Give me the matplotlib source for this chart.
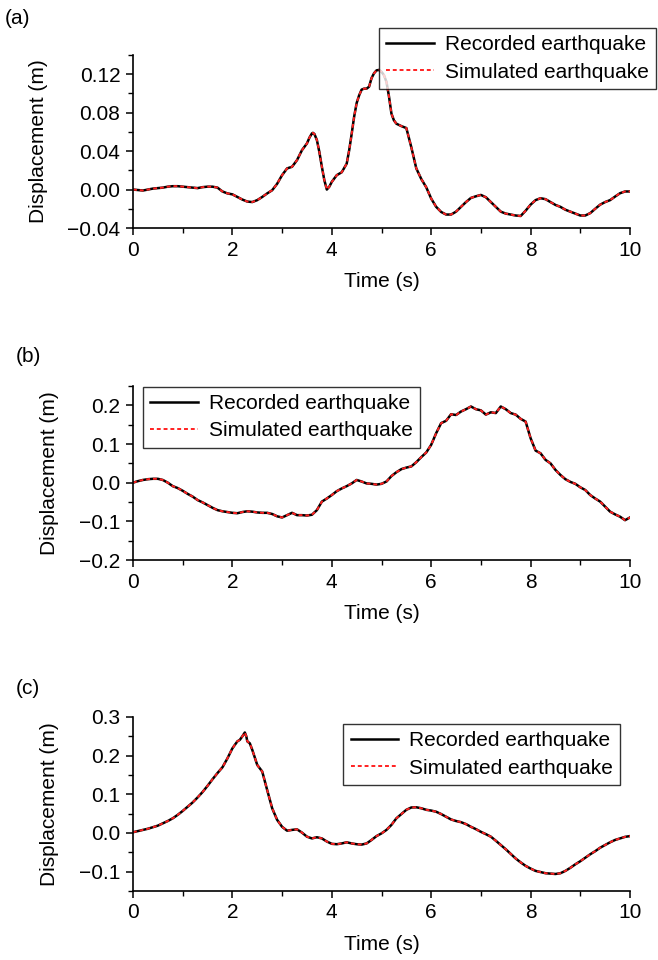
import numpy as np
import matplotlib
matplotlib.use("Agg")
import matplotlib.pyplot as plt
from matplotlib.ticker import MultipleLocator, FuncFormatter

plt.rcParams["font.family"] = ["Liberation Sans", "DejaVu Sans"]
plt.rcParams["font.size"] = 15

# time axis, 0.1 s steps
time_s = np.round(np.arange(0, 10.01, 0.1), 1)

# (a) displacement (m)
disp_a = [
    0.000, -0.0005, -0.001, 0.000, 0.001, 0.0015, 0.002, 0.003, 0.0035, 0.0035,
    0.003, 0.0025, 0.002, 0.0015, 0.0025, 0.003, 0.003, 0.002, -0.002, -0.004,
    -0.005, -0.0077, -0.0104, -0.0125, -0.013, -0.011, -0.0077, -0.004, -0.0007, 0.006,
    0.015, 0.022, 0.0237, 0.0306, 0.041, 0.048, 0.0584, 0.0515, 0.0237, 0.000,
    0.008, 0.015, 0.018, 0.027, 0.058, 0.090, 0.104, 0.105, 0.116, 0.124,
    0.1225, 0.112, 0.079, 0.0685, 0.066, 0.064, 0.044, 0.022, 0.011, 0.0024,
    -0.0094, -0.018, -0.0233, -0.026, -0.026, -0.023, -0.018, -0.013, -0.0087, -0.007,
    -0.0056, -0.008, -0.013, -0.018, -0.023, -0.025, -0.026, -0.027, -0.0275, -0.022,
    -0.0157, -0.011, -0.009, -0.010, -0.013, -0.016, -0.018, -0.021, -0.023, -0.025,
    -0.027, -0.027, -0.0245, -0.020, -0.0157, -0.013, -0.011, -0.0073, -0.0038, -0.002,
    -0.002,
]
# extra readings around the sharp turns of (a)
extra_t_a = [3.55, 3.62, 3.65, 3.75, 3.85, 3.95, 4.35, 4.45, 4.55, 4.65, 4.75, 4.85, 4.95, 5.05, 5.15, 5.25]
extra_d_a = [0.054, 0.059, 0.0578, 0.039, 0.0097, 0.003, 0.041, 0.076, 0.098, 0.105, 0.107, 0.121, 0.1245, 0.119, 0.097, 0.072]

# (b)
disp_b = [
    0.000, 0.004, 0.007, 0.009, 0.010, 0.010, 0.007, 0.000, -0.009, -0.014,
    -0.021, -0.029, -0.036, -0.045, -0.051, -0.058, -0.065, -0.071, -0.074, -0.076,
    -0.078, -0.079, -0.076, -0.074, -0.075, -0.077, -0.078, -0.078, -0.081, -0.087,
    -0.090, -0.084, -0.078, -0.084, -0.084, -0.085, -0.083, -0.071, -0.049, -0.041,
    -0.032, -0.022, -0.015, -0.009, -0.002, 0.007, 0.003, -0.002, -0.003, -0.005,
    -0.003, 0.003, 0.017, 0.027, 0.035, 0.039, 0.042, 0.053, 0.066, 0.078,
    0.098, 0.128, 0.154, 0.160, 0.177, 0.175, 0.184, 0.190, 0.197, 0.190,
    0.187, 0.176, 0.182, 0.180, 0.197, 0.190, 0.180, 0.176, 0.165, 0.158,
    0.115, 0.083, 0.076, 0.059, 0.050, 0.033, 0.020, 0.009, 0.002, -0.003,
    -0.012, -0.019, -0.032, -0.041, -0.049, -0.062, -0.075, -0.082, -0.088, -0.097,
    -0.090,
]

# (c)
disp_c = [
    0.002, 0.005, 0.008, 0.011, 0.015, 0.019, 0.025, 0.031, 0.038, 0.047,
    0.057, 0.068, 0.079, 0.092, 0.106, 0.122, 0.139, 0.155, 0.170, 0.193,
    0.219, 0.237, 0.250, 0.237, 0.215, 0.176, 0.159, 0.111, 0.064, 0.034,
    0.016, 0.006, 0.008, 0.0095, 0.001, -0.0095, -0.014, -0.011, -0.014, -0.022,
    -0.028, -0.029, -0.027, -0.024, -0.027, -0.029, -0.030, -0.027, -0.018, -0.008,
    -0.001, 0.008, 0.021, 0.038, 0.049, 0.060, 0.066, 0.0665, 0.064, 0.060,
    0.058, 0.055, 0.049, 0.042, 0.035, 0.031, 0.028, 0.023, 0.016, 0.010,
    0.003, -0.003, -0.0095, -0.020, -0.031, -0.042, -0.054, -0.066, -0.076, -0.085,
    -0.092, -0.098, -0.101, -0.104, -0.105, -0.106, -0.104, -0.098, -0.090, -0.081,
    -0.073, -0.064, -0.055, -0.047, -0.038, -0.031, -0.024, -0.018, -0.014, -0.010,
    -0.008,
]
extra_t_c = [2.15, 2.25, 2.28, 2.35]
extra_d_c = [0.241, 0.260, 0.250, 0.232]


def merge(t, d, et, ed):
    tt = np.concatenate([t, et])
    dd = np.concatenate([d, ed])
    order = np.argsort(tt, kind="stable")
    return tt[order], dd[order]


series = [
    merge(time_s, disp_a, extra_t_a, extra_d_a),
    (time_s, np.array(disp_b)),
    merge(time_s, disp_c, extra_t_c, extra_d_c),
]

panels = [
    # label, ylim, major, minor, decimals, legend loc, anchor, label x, ylabel x
    ("(a)", (-0.04, 0.14), 0.04, 0.02, 2, "upper right", (1.052, 1.156), 5, -0.171),
    ("(b)", (-0.2, 0.25), 0.1, 0.05, 1, "upper left", (0.02, 0.996), 16, -0.149),
    ("(c)", (-0.15, 0.3), 0.1, 0.05, 1, "upper right", (0.98, 0.96), 16, -0.149),
]

# axes boxes in pixels: top, bottom (figure is 658 x 960)
boxes = [(55, 228), (386, 560), (717, 891)]
label_y = [18, 357, 688]

fig = plt.figure(figsize=(6.58, 9.6), dpi=100)
W, H = 658.0, 960.0
left, right = 133, 630


def tick_fmt(dec):
    return FuncFormatter(lambda v, p: f"{v:.{dec}f}".replace("-", "\u2212"))


for (lab, ylim, maj, mnr, dec, loc, anchor, lx, ylx), (t, d), (top, bot), ly in zip(panels, series, boxes, label_y):
    ax = fig.add_axes([left / W, 1 - bot / H, (right - left) / W, (bot - top) / H])
    ax.plot(t, d, color="black", lw=1.8, label="Recorded earthquake")
    ax.plot(t, d, color="#ff2020", lw=1.4, ls=(0, (2.0, 1.5)), label="Simulated earthquake")
    ax.set_xlim(0, 10)
    ax.set_ylim(*ylim)
    ax.xaxis.set_major_locator(MultipleLocator(2))
    ax.xaxis.set_minor_locator(MultipleLocator(1))
    ax.yaxis.set_major_locator(MultipleLocator(maj))
    ax.yaxis.set_minor_locator(MultipleLocator(mnr))
    ax.yaxis.set_major_formatter(tick_fmt(dec))
    for s in ["top", "right"]:
        ax.spines[s].set_visible(False)
    for s in ["left", "bottom"]:
        ax.spines[s].set_linewidth(1.2)
    ax.tick_params(which="major", direction="out", length=5, width=1.1, pad=4)
    ax.tick_params(which="minor", direction="out", length=3.5, width=1.0)
    ax.set_xlabel("Time (s)", labelpad=9)
    ax.set_ylabel("Displacement (m)")
    ax.yaxis.set_label_coords(ylx, 0.5)
    leg = ax.legend(loc=loc, bbox_to_anchor=anchor, frameon=True, fancybox=False,
                    edgecolor="black", handlelength=2.3, handletextpad=0.5,
                    labelspacing=0.4, borderpad=0.35, borderaxespad=0)
    leg.get_frame().set_linewidth(1.0)
    fig.text(lx / W, 1 - ly / H, lab, ha="left", va="center")

fig.savefig("out.png", dpi=100)
